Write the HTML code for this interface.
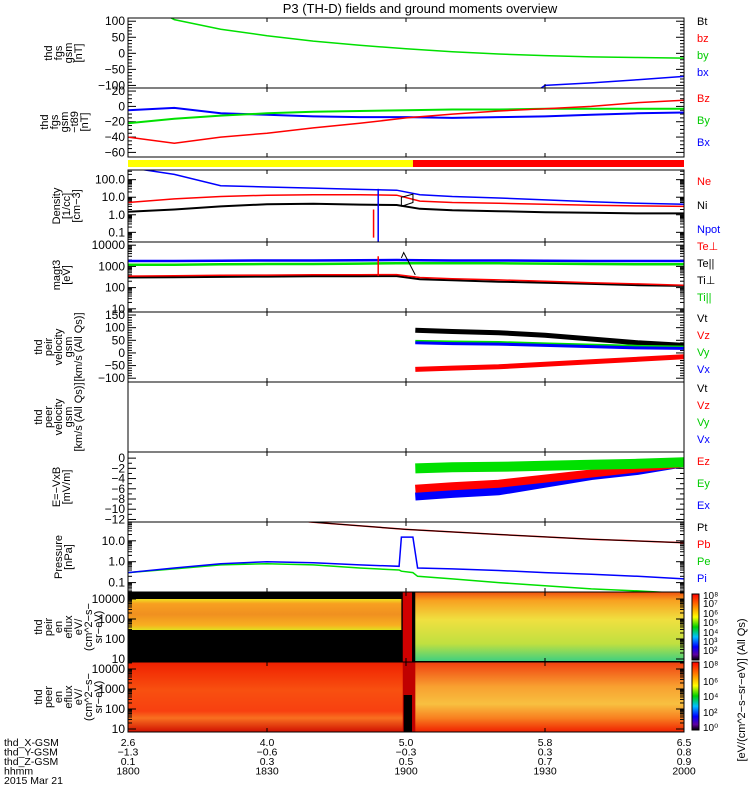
<!DOCTYPE html>
<html><head><meta charset="utf-8"><style>
body{margin:0;background:#fff}
svg{display:block;font-family:"Liberation Sans",sans-serif}
</style></head><body>
<svg id="c" width="750" height="800" viewBox="0 0 750 800">
<defs>
<linearGradient id="cbar" x1="0" y1="1" x2="0" y2="0">
<stop offset="0" stop-color="#000"/><stop offset="0.08" stop-color="#6000a0"/><stop offset="0.2" stop-color="#0000ff"/><stop offset="0.35" stop-color="#00c0ff"/><stop offset="0.5" stop-color="#00d000"/><stop offset="0.65" stop-color="#ffff00"/><stop offset="0.82" stop-color="#ff8000"/><stop offset="1" stop-color="#ff0000"/></linearGradient>
<linearGradient id="ionA" x1="0" y1="0" x2="0" y2="1"><stop offset="0" stop-color="#f0e020"/><stop offset="0.15" stop-color="#f8a020"/><stop offset="0.5" stop-color="#f09020"/><stop offset="0.85" stop-color="#f8b020"/><stop offset="1" stop-color="#e0e020"/></linearGradient>
<linearGradient id="ionB" x1="0" y1="0" x2="0" y2="1"><stop offset="0" stop-color="#f05010"/><stop offset="0.12" stop-color="#f8a020"/><stop offset="0.4" stop-color="#f0e040"/><stop offset="0.75" stop-color="#c0e040"/><stop offset="1" stop-color="#40d080"/></linearGradient>
<linearGradient id="eleA" x1="0" y1="0" x2="0" y2="1"><stop offset="0" stop-color="#f02000"/><stop offset="0.4" stop-color="#f85010"/><stop offset="0.7" stop-color="#f84010"/><stop offset="0.8" stop-color="#f87020"/><stop offset="1" stop-color="#d01000"/></linearGradient>
<linearGradient id="eleB" x1="0" y1="0" x2="0" y2="1"><stop offset="0" stop-color="#f04010"/><stop offset="0.35" stop-color="#f8a030"/><stop offset="0.6" stop-color="#f8c040"/><stop offset="0.8" stop-color="#f88020"/><stop offset="1" stop-color="#f02000"/></linearGradient>
</defs>
<g id="g"></g>
</svg>
<script>
const times=[0,10,20,30,40,50,60,70,80,90,100,110,120];
const times2=[0,10,20,30,40,50,58,63,70,80,90,100,110,120];
// panel 1 (nT)
const p1By=[180,105,75,55,38,25,14,5,-2,-7,-11,-13,-15];
const p1Bx=[-200,-200,-200,-200,-200,-200,-200,-200,-200,-100,-92,-82,-72];
// panel 2
const p2Bz=[-40,-48,-40,-35,-28,-22,-15,-10,-6,-3,0,5,8];
const p2By=[-22,-16,-12,-9,-7,-6,-5,-4,-4,-3,-3,-3,-3];
const p2Bx=[-5,-2,-9,-11,-13,-14,-14,-15,-14,-13,-11,-9,-8];
// density (times2)
const nNe=[5,8,11,13,14,14,13,6,5,4.5,4,3.5,3.2,3];
const nNpot=[500,200,45,38,33,28,25,14,11,9,7,5.5,4.5,4];
const nNi=[1.5,2,3,4,4.2,3.8,3.6,2.2,1.8,1.6,1.4,1.3,1.2,1.2];
// temperature (times2)
const tBlue=[1800,1800,1850,1900,1900,1950,2000,1950,1900,1900,1850,1800,1800,1800];
const tGreen=[1200,1200,1250,1300,1300,1350,1400,1400,1400,1400,1350,1300,1250,1250];
const tRed=[350,360,380,390,400,400,410,300,260,230,200,170,150,130];
const tBlack=[300,310,320,330,340,340,350,250,220,190,170,150,130,120];
// velocity (starts t=62)
const vt=[62,70,80,90,100,110,120];
const vVt=[90,85,80,70,55,40,30];
const vVy=[45,42,40,35,30,25,22];
const vVx=[40,37,35,30,25,20,18];
const vVz=[-65,-60,-55,-45,-35,-25,-15];
// E field
const eEy=[-2,-1.8,-1.7,-1.5,-1.3,-1.1,-0.8];
const eEz=[-6,-5.5,-5,-4,-3,-2,-1];
const eEx=[-7.5,-7,-6.5,-5,-3.5,-2.5,-1];
// pressure
const pt=[39,60,80,100,120];
const pPt=[80,35,20,12,8];
const pTimes=[0,10,20,30,40,50,58.5,59,61.5,62.5,70,80,90,100,110,120];
const pBlue=[0.3,0.5,0.8,1,0.9,0.7,0.6,15,15,0.5,0.45,0.38,0.3,0.25,0.2,0.15];
const pGreen=[0.3,0.45,0.7,0.8,0.7,0.5,0.4,0.35,0.3,0.2,0.15,0.1,0.07,0.05,0.04,0.03];

const NS="http://www.w3.org/2000/svg",G=document.getElementById('g');
const X0=128,X1=684;
const xs=t=>X0+(X1-X0)*t/120;
function el(tag,a,txt){const e=document.createElementNS(NS,tag);for(const k in a)e.setAttribute(k,a[k]);if(txt!==undefined)e.textContent=txt;G.appendChild(e);return e;}
function lin(top,bot,lo,hi){return v=>bot-(v-lo)/(hi-lo)*(bot-top);}
function lg(top,bot,lo,hi){return v=>bot-(Math.log10(v)-lo)/(hi-lo)*(bot-top);}
let clipN=0;
function clip(top,bot){const id='cl'+(clipN++);const d=document.createElementNS(NS,'clipPath');d.setAttribute('id',id);const r=document.createElementNS(NS,'rect');r.setAttribute('x',X0);r.setAttribute('y',top);r.setAttribute('width',X1-X0);r.setAttribute('height',bot-top);d.appendChild(r);document.querySelector('defs').appendChild(d);return id;}
function line(T,V,ys,col,name,cid,w){const pts=T.map((t,i)=>xs(t).toFixed(1)+','+ys(V[i]).toFixed(1)).join(' ');const p=el('polyline',{points:pts,fill:'none',stroke:col,'stroke-width':w||1.5,'clip-path':'url(#'+cid+')'});

}
function frame(top,bot,name){const r=el('rect',{x:X0,y:top,width:X1-X0,height:bot-top,fill:'none',stroke:'#000','stroke-width':1});


for(const t of [30,60,90]){el('line',{x1:xs(t),x2:xs(t),y1:bot,y2:bot-4,stroke:'#000'});el('line',{x1:xs(t),x2:xs(t),y1:top,y2:top+4,stroke:'#000'});}}
function ytick(y,lab,major){el('line',{x1:X0,x2:X0+(major?8:4),y1:y,y2:y,stroke:'#000'});el('line',{x1:X1,x2:X1-(major?8:4),y1:y,y2:y,stroke:'#000'});if(lab!==null){const t=el('text',{x:X0-3,y:y+4,'font-size':12,'text-anchor':'end'},lab);

}}
function ylab(lines,cx,cy){const t=el('text',{transform:`translate(${cx},${cy}) rotate(-90)`,'font-size':11,'text-anchor':'middle'});


lines.forEach((s,i)=>{const ts=document.createElementNS(NS,'tspan');ts.setAttribute('x',0);ts.setAttribute('dy',i?10:0);ts.textContent=s;t.appendChild(ts);});}
function legend(items,y0,dy){items.forEach((it,i)=>{const t=el('text',{x:697,y:y0+i*dy,'font-size':11,fill:it[1]},it[0]);

});}
function logticks(ys,lo,hi,top,bot,fmt){for(let d=lo;d<=hi;d++){for(let m=1;m<10;m++){const v=m*Math.pow(10,d);const y=ys(v);if(y<top-0.5||y>bot+0.5)continue;ytick(y,m==1&&fmt[d]!==undefined?fmt[d]:null,m==1);}}}

const ti=el('text',{x:420,y:13,'font-size':13,'text-anchor':'middle'},'P3 (TH-D) fields and ground moments overview');



// Panel 1
{const top=18,bot=88,ys=lin(top,bot,-108,110),c=clip(top,bot);
for(let v=-100;v<=100;v+=10)ytick(ys(v),v%50==0?(v<0?'−'+(-v):''+v):null,v%50==0);
line(times,p1By,ys,'#00e000','by-line',c);line(times,p1Bx,ys,'#0000ff','bx-line',c);
frame(top,bot,'panel-fgs-gsm');ylab(['thd','fgs','gsm','[nT]'],52,53);
legend([['Bt','#000'],['bz','#f00'],['by','#0c0'],['bx','#00f']],25,17);}
// Panel 2
{const top=88,bot=157,ys=lin(top,bot,-66,24),c=clip(top,bot);
for(let v=-60;v<=20;v+=5)ytick(ys(v),v%20==0?(v<0?'−'+(-v):''+v):null,v%20==0);
line(times,p2Bx,ys,'#0000ff','bx-line',c,2);line(times,p2By,ys,'#00e000','by-line',c,2);line(times,p2Bz,ys,'#ff0000','bz-line',c,1.5);
frame(top,bot,'panel-fgs-gsm-t89');ylab(['thd','fgs','gsm','−t89','[nT]'],48,122);
legend([['Bz','#f00'],['By','#0c0'],['Bx','#00f']],102,22);}
// mode bar
el('rect',{x:X0,y:160,width:xs(61.5)-X0,height:7,fill:'#ffff00',});
el('rect',{x:xs(61.5),y:160,width:X1-xs(61.5),height:7,fill:'#ff0000',});
// Panel 3 density
{const top=170,bot=242,ys=lg(top,bot,-1.55,2.55),c=clip(top,bot);
logticks(ys,-2,2,top,bot,{'-1':'0.1','0':'1.0','1':'10.0','2':'100.0'});
line(times2,nNpot,ys,'#0000ff','npot-line',c);line(times2,nNe,ys,'#ff0000','ne-line',c);line(times2,nNi,ys,'#000','ni-line',c,2);
el('polyline',{points:`${xs(59)},${ys(3)} ${xs(59)},${ys(10)} ${xs(61.5)},${ys(15)} ${xs(61.5)},${ys(5)} ${xs(59)},${ys(3)}`,fill:'none',stroke:'#000','clip-path':`url(#${c})`});
el('line',{x1:xs(54),x2:xs(54),y1:ys(30),y2:bot,stroke:'#00f','stroke-width':1.5});
el('line',{x1:xs(53),x2:xs(53),y1:ys(2),y2:ys(0.05),stroke:'#f00','stroke-width':1.5});
frame(top,bot,'panel-density');ylab(['Density','[1/cc]','[cm−3]'],60,206);
legend([['Ne','#f00'],['Ni','#000'],['Npot','#00f']],185,24);}
// Panel 4 temp
{const top=242,bot=312,ys=lg(top,bot,0.85,4.15),c=clip(top,bot);
logticks(ys,0,4,top,bot,{'1':'10','2':'100','3':'1000','4':'10000'});
line(times2,tBlack,ys,'#000','te-par-line',c,2);line(times2,tRed,ys,'#f00','te-perp-line',c,1.5);line(times2,tGreen,ys,'#00e000','ti-par-line',c,2.5);line(times2,tBlue,ys,'#00f','ti-perp-line',c,2.5);
el('line',{x1:xs(54),x2:xs(54),y1:ys(3000),y2:ys(350),stroke:'#f00','stroke-width':1.5});
el('polyline',{points:`${xs(59)},${ys(2500)} ${xs(59.5)},${ys(4500)} ${xs(62)},${ys(400)}`,fill:'none',stroke:'#000','clip-path':`url(#${c})`});
frame(top,bot,'panel-temperature');ylab(['magt3','[eV]'],60,275);
legend([['Te⊥','#f00'],['Te||','#000'],['Ti⊥','#000'],['Ti||','#0c0']],250,17);}
// Panel 5 velocity
{const top=312,bot=382,ys=lin(top,bot,-115,162),c=clip(top,bot);
for(let v=-100;v<=150;v+=10)ytick(ys(v),v%50==0?(v<0?'−'+(-v):''+v):null,v%50==0);
line(vt,vVt,ys,'#000','vt-line',c,5);line(vt,vVy,ys,'#00e000','vy-line',c,3.5);line(vt,vVx,ys,'#00f','vx-line',c,3);line(vt,vVz,ys,'#f00','vz-line',c,5);
frame(top,bot,'panel-ion-velocity');ylab(['thd','peir','velocity','gsm','[km/s (All Qs)]'],42,347);
legend([['Vt','#000'],['Vz','#f00'],['Vy','#0c0'],['Vx','#00f']],322,17);}
// Panel 6 empty
{const top=382,bot=452;frame(top,bot,'panel-electron-velocity');ylab(['thd','peer','velocity','gsm','[km/s (All Qs)]'],42,417);
legend([['Vt','#000'],['Vz','#f00'],['Vy','#0c0'],['Vx','#00f']],392,17);}
// Panel 7 E
{const top=452,bot=522,ys=lin(top,bot,-12.5,1.2),c=clip(top,bot);
for(let v=-12;v<=0;v+=1)ytick(ys(v),v%2==0?(v<0?'−'+(-v):'0'):null,v%2==0);
line(vt,eEx,ys,'#00f','ex-line',c,8);line(vt,eEz,ys,'#f00','ez-line',c,8);line(vt,eEy,ys,'#00e000','ey-line',c,10);
frame(top,bot,'panel-e-field');ylab(['E=−VxB','[mV/m]'],60,487);
legend([['Ez','#f00'],['Ey','#0c0'],['Ex','#00f']],465,22);}
// Panel 8 pressure
{const top=522,bot=592,ys=lg(top,bot,-1.45,1.9),c=clip(top,bot);
logticks(ys,-2,1,top,bot,{'-1':'0.1','0':'1.0','1':'10.0'});
line(pTimes,pGreen,ys,'#00e000','pe-line',c);line(pTimes,pBlue,ys,'#00f','pi-line',c);
line(pt,pPt,ys,'#f00','pb-line',c,1.5);line(pt,pPt,ys,'#000','pt-line',c,1);
frame(top,bot,'panel-pressure');ylab(['Pressure','[nPa]'],62,557);
legend([['Pt','#000'],['Pb','#f00'],['Pe','#0c0'],['Pi','#00f']],531,17);}
// Spectrogram ion
{const top=592,bot=662;
el('rect',{x:X0,y:top,width:X1-X0,height:bot-top,fill:'#000',});
el('rect',{x:X0,y:599,width:xs(59)-X0,height:31,fill:'url(#ionA)'});
el('rect',{x:xs(59.3),y:top,width:xs(61.3)-xs(59.3),height:bot-top,fill:'#d00000'});
el('rect',{x:xs(62),y:top,width:X1-xs(62),height:bot-top-1,fill:'url(#ionB)'});
const ys=lg(top,bot,0.85,4.35);logticks(ys,1,4,top,bot,{'1':'10','2':'100','3':'1000','4':'10000'});
frame(top,bot,'ion-spectrogram-frame');ylab(['thd','peir','en','eflux','eV/','(cm^2−s−','sr−eV)'],42,627);}
// Spectrogram electron
{const top=662,bot=732;
el('rect',{x:X0,y:top,width:X1-X0,height:bot-top,fill:'url(#eleA)',});
el('rect',{x:xs(62),y:top,width:X1-xs(62),height:bot-top,fill:'url(#eleB)'});
el('rect',{x:xs(59.3),y:top,width:xs(62)-xs(59.3),height:bot-top,fill:'#c00000'});
el('rect',{x:xs(59.5),y:695,width:xs(61.3)-xs(59.5),height:bot-695,fill:'#000'});
const ys=lg(top,bot,0.85,4.35);logticks(ys,1,4,top,bot,{'1':'10','2':'100','3':'1000','4':'10000'});
frame(top,bot,'electron-spectrogram-frame');ylab(['thd','peer','en','eflux','eV/','(cm^2−s−','sr−eV)'],42,697);}
// colorbars
el('rect',{x:692,y:594,width:7,height:66,fill:'url(#cbar)',stroke:'#000',});
el('rect',{x:692,y:662,width:7,height:68,fill:'url(#cbar)',stroke:'#000',});
[['10⁸',599],['10⁷',607],['10⁶',617],['10⁵',626],['10⁴',636],['10³',645],['10²',654],['10⁸',668],['10⁶',685],['10⁴',700],['10²',716],['10⁰',731]].forEach(a=>el('text',{x:703,y:a[1],'font-size':10},a[0]));
const cl=el('text',{transform:'translate(745,690) rotate(-90)','font-size':11,'text-anchor':'middle'},'[eV/(cm^2−s−sr−eV)] (All Qs)');


// x axis labels
const xTimes=[0,30,60,90,120];
const xX=['2.6','4.0','5.0','5.8','6.5'],xY=['−1.3','−0.6','−0.3','0.3','0.8'],xZ=['0.1','0.3','0.5','0.7','0.9'],xH=['1800','1830','1900','1930','2000'];
[['thd_X-GSM',xX],['thd_Y-GSM',xY],['thd_Z-GSM',xZ],['hhmm',xH]].forEach((r,i)=>{const y=746+i*9.5;el('text',{x:4,y:y,'font-size':10.5},r[0]);
xTimes.forEach((t,j)=>{const tx=el('text',{x:xs(t),y:y,'font-size':10.5,'text-anchor':'middle'},r[1][j]);

});});
el('text',{x:4,y:784,'font-size':10.5},'2015 Mar 21');
</script>
</body></html>
